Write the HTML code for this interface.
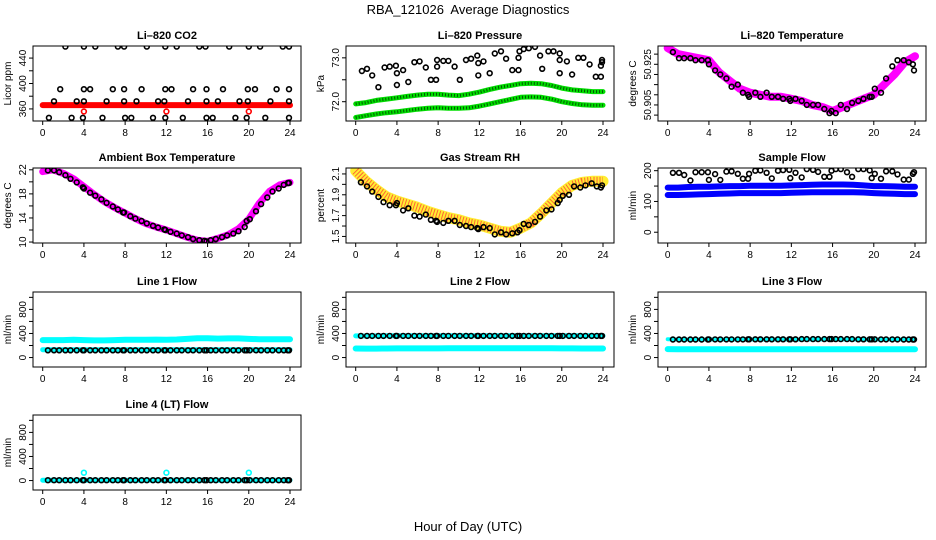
<!DOCTYPE html>
<html><head><meta charset="utf-8">
<style>
html,body{margin:0;padding:0;background:#fff;}
svg{display:block;font-family:"Liberation Sans",Arial,sans-serif;}
</style></head>
<body>
<svg id="chart" width="936" height="540" viewBox="0 0 936 540" xmlns="http://www.w3.org/2000/svg">
<text x="468" y="14" text-anchor="middle" font-size="13">RBA_121026&#160; Average Diagnostics</text>
<text x="468" y="531" text-anchor="middle" font-size="13">Hour of Day (UTC)</text>
</svg>
<script>
// ---------- data ----------
const bandHours=[0,1,2,3,4,5,6,7,8,9,10,11,12,13,14,15,16,17,18,19,20,21,22,23,24];
const H=[0.5,1.1,1.6,2.2,2.7,3.3,3.9,4.0,4.6,5.1,5.7,6.2,6.8,7.3,7.8,7.9,8.5,9.0,9.6,10.1,10.7,11.2,11.8,11.9,12.4,13.0,13.5,14.1,14.6,15.2,15.7,15.9,16.3,16.8,17.4,17.9,18.5,19.0,19.6,19.8,20.1,20.7,21.2,21.8,22.3,22.9,23.4,23.8,23.9];

const co2Hours=[2.2,4,5.1,7.3,7.9,10.1,11.9,13,15.2,15.8,18.1,20,21.1,23.3,23.9, 1.7,4,4.6,6.8,7.9,9.6,11.9,12.5,14.6,15.9,17.5,19.9,20.6,22.7,23.9, 1.1,3.3,4,6.2,7.9,9.1,11.2,11.8,14.1,15.9,17,19.1,19.9,22.1,23.9, 0.6,2.8,3.9,5.8,8,8.6,10.7,11.9,13.6,15.9,16.5,18.7,19.8,21.6,23.9];
const co2Values=[458,458,458,458,458,458,458,458,458,458,458,458,458,458,458, 391,391,391,391,391,391,391,391,391,391,391,391,391,391,391, 372,372,372,372,372,372,372,372,372,372,372,372,372,372,372, 346,346,346,346,346,346,346,346,346,346,346,346,346,346,346];
const co2Band=[366,366,366,366,366,366,366,366,366,366,366,366,366,366,366,366,366,366,366,366,366,366,366,366,366];
const co2RedHours=[4,12,20];
const co2RedValues=[356,356,356];

const presHours=[0.6,1.1,1.6,2.2,2.8,3.3,3.9,4.0,4.0,4.6,5.1,5.7,6.2,6.8,7.3,7.8,7.9,7.9,8.5,9.0,9.6,10.1,10.7,11.2,11.8,11.9,11.9,12.4,13.0,13.5,14.1,14.6,15.2,15.8,15.8,15.9,16.3,16.8,17.4,17.9,18.1,18.7,19.2,19.8,19.8,19.8,20.5,21.0,21.6,22.1,22.7,23.3,23.8,23.8,23.9,23.9];
const presValues=[72.7,72.75,72.6,72.33,72.78,72.8,72.82,72.65,72.38,72.72,72.45,72.9,72.92,72.78,72.5,72.5,72.8,72.95,72.93,72.93,72.8,72.5,72.95,72.98,73.05,72.88,72.6,72.92,72.65,73.1,73.15,72.98,72.72,72.72,73.0,73.15,73.2,73.22,73.25,73.05,72.75,73.15,73.15,73.1,72.95,72.65,72.92,72.62,73.0,73.0,72.85,72.57,72.57,72.82,72.95,72.9];
const presLower=[71.64,71.68,71.72,71.75,71.77,71.80,71.83,71.85,71.86,71.85,71.85,71.86,71.90,71.95,72.00,72.05,72.10,72.11,72.10,72.06,72.00,71.96,71.93,71.92,71.92];
const presUpper=[71.95,71.98,72.03,72.06,72.09,72.12,72.15,72.17,72.17,72.15,72.14,72.17,72.22,72.28,72.33,72.37,72.41,72.42,72.41,72.37,72.31,72.27,72.25,72.23,72.23];

const tempValues=[50.931,50.928,50.928,50.928,50.927,50.927,50.927,50.925,50.922,50.920,50.918,50.914,50.915,50.911,50.910,50.909,50.911,50.909,50.911,50.909,50.909,50.908,50.908,50.907,50.908,50.907,50.905,50.905,50.905,50.903,50.901,50.902,50.901,50.905,50.903,50.906,50.907,50.908,50.909,50.909,50.913,50.911,50.918,50.924,50.927,50.927,50.926,50.925,50.922];
const tempBand=[50.933,50.930,50.929,50.928,50.927,50.921,50.917,50.913,50.911,50.910,50.909,50.909,50.908,50.907,50.905,50.904,50.902,50.904,50.906,50.908,50.910,50.915,50.920,50.926,50.929];

const ambValues=[21.9,21.9,21.6,21.1,20.5,19.9,19.1,18.9,18.2,17.7,17.1,16.5,15.9,15.4,14.9,14.9,14.3,13.9,13.5,13.1,12.7,12.4,12.1,12.0,11.7,11.4,11.1,10.8,10.5,10.3,10.2,10.1,10.3,10.5,10.8,11.1,11.4,11.8,12.5,13.5,13.8,15.1,16.3,17.4,18.4,18.9,19.5,19.8,19.8];
const ambBand=[21.7,22.0,21.4,20.5,19.2,17.9,16.7,15.7,14.8,13.9,13.1,12.5,12.0,11.4,10.8,10.3,10.1,10.6,11.2,12.2,13.8,16.4,18.4,19.5,19.9];

const rhValues=[2.02,1.98,1.93,1.88,1.83,1.80,1.80,1.82,1.75,1.77,1.70,1.69,1.71,1.66,1.65,1.64,1.63,1.65,1.65,1.61,1.60,1.59,1.58,1.57,1.59,1.58,1.52,1.54,1.52,1.53,1.54,1.56,1.62,1.61,1.64,1.69,1.75,1.76,1.82,1.85,1.89,1.90,1.98,1.97,1.99,2.01,1.98,1.97,1.99];
const rhBand=[2.13,2.03,1.95,1.88,1.84,1.81,1.78,1.74,1.71,1.68,1.66,1.63,1.61,1.58,1.55,1.54,1.58,1.63,1.72,1.82,1.92,1.99,2.02,2.03,2.03];

const sfValues=[193,193,186,168,195,195,195,170,189,170,197,198,190,174,174,190,200,201,193,175,200,202,203,176,193,178,205,203,196,180,180,200,205,205,195,180,205,205,201,176,190,174,198,198,188,171,171,190,195];
const sfUpper=[145,145,147,148,148,149,150,150,151,151,151,151,152,153,154,155,155,155,154,152,150,150,149,148,148];
const sfLower=[121,121,122,123,124,125,126,127,127,127,127,127,128,129,130,130,130,130,130,129,127,126,125,124,124];

const l1Values=[120,120,120,120,120,120,120,120,120,120,120,120,120,120,120,120,120,120,120,120,120,120,120,120,120,120,120,120,120,120,120,120,120,120,120,120,120,120,120,120,120,120,120,120,120,120,120,120,120];
const l1Upper=[290,290,290,295,290,285,285,290,295,295,295,298,295,300,310,320,322,315,318,318,310,305,305,305,305];
const l1Lower=[130,130,130,130,130,130,130,130,130,130,130,130,130,130,130,130,130,130,130,130,130,130,130,130,130];

const l2Values=[360,360,360,360,360,360,360,360,360,360,360,360,360,360,360,360,360,360,360,360,360,360,360,360,360,360,360,360,360,360,360,360,360,360,360,360,360,360,360,360,360,360,360,360,360,360,360,360,360];
const l2Upper=[360,358,360,362,362,362,362,362,362,362,362,362,362,362,362,362,362,362,362,362,362,362,362,362,362];
const l2Lower=[150,148,148,150,152,152,152,152,152,155,155,155,155,155,155,155,155,155,155,155,152,152,150,150,150];

const l3Values=[300,300,300,300,300,300,300,302,302,302,302,302,302,302,304,304,304,304,304,304,304,304,304,304,304,306,306,306,306,306,306,306,306,306,306,306,304,304,304,304,304,302,302,302,302,300,300,300,300];
const l3Upper=[305,300,300,300,300,300,300,300,300,300,300,300,300,300,300,300,300,300,300,300,300,300,300,300,300];
const l3Lower=[140,138,138,138,138,138,138,138,138,138,138,138,138,138,138,138,138,138,138,138,138,138,138,138,138];

const l4Values=[5,5,5,5,5,5,5,5,5,5,5,5,5,5,5,5,5,5,5,5,5,5,5,5,5,5,5,5,5,5,5,5,5,5,5,5,5,5,5,5,5,5,5,5,5,5,5,5,5];
const l4Band=[5,5,5,5,5,5,5,5,5,5,5,5,5,5,5,5,5,5,5,5,5,5,5,5,5];
const l4CyanHours=[4,12,20];
const l4CyanValues=[130,130,130];

const xTicks=[0,4,8,12,16,20,24];

// ---------- drawing ----------
const NS="http://www.w3.org/2000/svg";
const svg=document.getElementById('chart');
const colL=[33,346,658], rowT=[46,168,292,415], PW=268, PH=75;
function mk(tag,attrs,parent){const e=document.createElementNS(NS,tag);for(const k in attrs)e.setAttribute(k,attrs[k]);(parent||svg).appendChild(e);return e;}

function panel(cfg){
  const L=colL[cfg.col], T=rowT[cfg.row], B=T+PH, R=L+PW;
  const g=mk('g',{});
  
  
  const xs=h=>L+9.7+h*(247.3/24);
  const ys=v=>B-(v-cfg.ymin)/(cfg.ymax-cfg.ymin)*PH;
  const t=mk('text',{x:(L+R)/2,y:T-7,'text-anchor':'middle','font-size':11,'font-weight':'bold'},g);
  t.textContent=cfg.title;
  
  
  const yl=mk('text',{x:0,y:0,'text-anchor':'middle','font-size':10,transform:`translate(${L-22},${(T+B)/2}) rotate(-90)`},g);
  yl.textContent=cfg.ylab;
  
  
  const clip=mk('clipPath',{id:'c'+cfg.name},g);
  mk('rect',{x:L,y:T,width:PW,height:PH},clip);
  const pg=mk('g',{'clip-path':`url(#c${cfg.name})`},g);
  (cfg.bands||[]).forEach(b=>{
    const p=b.ys.map((v,i)=>xs(b.xs[i]).toFixed(1)+','+ys(v).toFixed(1)).join(' ');
    const pl=mk('polyline',{points:p,fill:'none',stroke:b.color,'stroke-width':b.w,'stroke-linejoin':'round','stroke-linecap':'round'},pg);
    
    
    if(b.dash){mk('polyline',{points:p,fill:'none',stroke:b.dash,'stroke-width':b.w-2,'stroke-dasharray':'1 2','stroke-linejoin':'round'},pg);}
  });
  (cfg.pts||[]).forEach(s=>{
    s.ys.forEach((v,i)=>{
      const c=mk('circle',{cx:xs(s.xs[i]).toFixed(1),cy:ys(v).toFixed(1),r:2.4,fill:'none',stroke:s.color,'stroke-width':1.6},pg);
      
      
    });
  });
  const bx=mk('rect',{x:L,y:T,width:PW,height:PH,fill:'none',stroke:'#000','stroke-width':1},g);
  
  
  xTicks.forEach(h=>{
    mk('line',{x1:xs(h),x2:xs(h),y1:B,y2:B+4,stroke:'#000'},g);
    const tx=mk('text',{x:xs(h),y:B+15,'text-anchor':'middle','font-size':10},g);
    tx.textContent=h;
    
    
  });
  cfg.ticks.forEach(v=>{
    const y=ys(v); if(y<T-1||y>B+1)return;
    mk('line',{x1:L-4,x2:L,y1:y,y2:y,stroke:'#000'},g);
  });
  cfg.labels.forEach((v,i)=>{
    const y=ys(v);
    const tx=mk('text',{x:0,y:0,'text-anchor':'middle','font-size':10,transform:`translate(${L-7},${y}) rotate(-90)`},g);
    tx.textContent=cfg.labelText?cfg.labelText[i]:v;
    
    
  });
}

const flowTicks=[0,200,400,600,800,1000];
panel({name:'panel-co2',col:0,row:0,title:'Li\u2013820 CO2',ylab:'Licor ppm',ymin:341,ymax:459,ticks:[360,380,400,420,440],labels:[360,400,440],
  bands:[{xs:bandHours,ys:co2Band,color:'#ff0000',w:6}],
  pts:[{xs:co2Hours,ys:co2Values,color:'#000'},{xs:co2RedHours,ys:co2RedValues,color:'#ff0000'}]});
panel({name:'panel-pressure',col:1,row:0,title:'Li\u2013820 Pressure',ylab:'kPa',ymin:71.56,ymax:73.27,ticks:[72.0,72.5,73.0],labels:[72.0,73.0],labelText:['72.0','73.0'],
  bands:[{xs:bandHours,ys:presLower,color:'#00dd00',w:5,dash:'#005500'},{xs:bandHours,ys:presUpper,color:'#00dd00',w:5,dash:'#005500'}],
  pts:[{xs:presHours,ys:presValues,color:'#000'}]});
panel({name:'panel-li820-temp',col:2,row:0,title:'Li\u2013820 Temperature',ylab:'degrees C',ymin:50.8971,ymax:50.934,ticks:[50.9,50.905,50.91,50.915,50.92,50.925,50.93],labels:[50.905,50.925],labelText:['50.905','50.925'],
  bands:[{xs:bandHours,ys:tempBand,color:'#ff00ff',w:8}],
  pts:[{xs:H,ys:tempValues,color:'#000'}]});
panel({name:'panel-ambient-temp',col:0,row:1,title:'Ambient Box Temperature',ylab:'degrees C',ymin:9.84,ymax:22.3,ticks:[10,12,14,16,18,20,22],labels:[10,14,18,22],
  bands:[{xs:bandHours,ys:ambBand,color:'#ff00ff',w:7}],
  pts:[{xs:H,ys:ambValues,color:'#000'}]});
panel({name:'panel-gas-rh',col:1,row:1,title:'Gas Stream RH',ylab:'percent',ymin:1.437,ymax:2.157,ticks:[1.5,1.6,1.7,1.8,1.9,2.0,2.1],labels:[1.5,1.7,1.9,2.1],labelText:['1.5','1.7','1.9','2.1'],
  bands:[{xs:bandHours,ys:rhBand,color:'#ffee33',w:11,dash:'#ff6633'}],
  pts:[{xs:H,ys:rhValues,color:'#000'}]});
panel({name:'panel-sample-flow',col:2,row:1,title:'Sample Flow',ylab:'ml/min',ymin:-35,ymax:208.7,ticks:[0,50,100,150,200],labels:[0,100,200],
  bands:[{xs:bandHours,ys:sfUpper,color:'#0000ff',w:6},{xs:bandHours,ys:sfLower,color:'#0000ff',w:6}],
  pts:[{xs:H,ys:sfValues,color:'#000'}]});
panel({name:'panel-line1-flow',col:0,row:2,title:'Line 1 Flow',ylab:'ml/min',ymin:-157,ymax:1089,ticks:flowTicks,labels:[0,400,800],
  bands:[{xs:bandHours,ys:l1Upper,color:'#00ffff',w:6},{xs:bandHours,ys:l1Lower,color:'#00ffff',w:5}],
  pts:[{xs:H,ys:l1Values,color:'#000'}]});
panel({name:'panel-line2-flow',col:1,row:2,title:'Line 2 Flow',ylab:'ml/min',ymin:-157,ymax:1089,ticks:flowTicks,labels:[0,400,800],
  bands:[{xs:bandHours,ys:l2Upper,color:'#00ffff',w:5},{xs:bandHours,ys:l2Lower,color:'#00ffff',w:6}],
  pts:[{xs:H,ys:l2Values,color:'#000'}]});
panel({name:'panel-line3-flow',col:2,row:2,title:'Line 3 Flow',ylab:'ml/min',ymin:-157,ymax:1089,ticks:flowTicks,labels:[0,400,800],
  bands:[{xs:bandHours,ys:l3Upper,color:'#00ffff',w:4},{xs:bandHours,ys:l3Lower,color:'#00ffff',w:6}],
  pts:[{xs:H,ys:l3Values,color:'#000'}]});
panel({name:'panel-line4-flow',col:0,row:3,title:'Line 4 (LT) Flow',ylab:'ml/min',ymin:-157,ymax:1089,ticks:flowTicks,labels:[0,400,800],
  bands:[{xs:bandHours,ys:l4Band,color:'#00ffff',w:5}],
  pts:[{xs:H,ys:l4Values,color:'#000'},{xs:l4CyanHours,ys:l4CyanValues,color:'#00ffff'}]});
</script>
</body></html>
